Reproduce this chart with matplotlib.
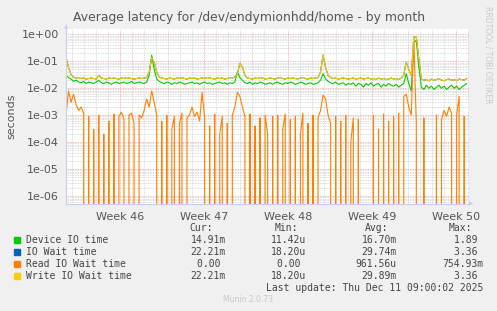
import numpy as np
import matplotlib
matplotlib.use('Agg')
import matplotlib.pyplot as plt
from matplotlib.ticker import FixedLocator, FuncFormatter, NullFormatter

# samples, in milliseconds, one every ~5 hours across the month
device_io_ms = [
    30, 25, 22, 18, 20, 17, 16, 18, 15, 17,
    16, 15, 17, 20, 16, 15, 17, 16, 14, 16,
    17, 15, 16, 17, 15, 16, 18, 15, 16, 17,
    16, 15, 17, 30, 170, 50, 22, 18, 16, 15,
    17, 16, 14, 16, 15, 17, 16, 14, 15, 16,
    17, 15, 16, 14, 16, 17, 15, 16, 14, 15,
    16, 17, 15, 16, 14, 16, 15, 17, 40, 25,
    20, 16, 15, 17, 14, 16, 15, 17, 16, 14,
    15, 16, 14, 16, 17, 15, 14, 16, 15, 17,
    16, 14, 15, 17, 16, 14, 15, 16, 14, 15,
    16, 20, 35, 22, 18, 16, 15, 17, 14, 15,
    16, 13, 15, 14, 16, 12, 15, 14, 11, 15,
    13, 16, 12, 14, 15, 11, 14, 12, 15, 13,
    12, 14, 11, 13, 15, 35, 15, 8, 500, 600,
    60, 11, 9, 13, 10, 12, 9, 11, 13, 10,
    12, 9, 11, 13, 10, 12, 9, 11, 13, 15,
]

write_wait_ms = [
    140, 60, 32, 26, 24, 25, 23, 24, 22, 23,
    24, 23, 22, 30, 24, 23, 22, 24, 23, 24,
    23, 22, 24, 23, 25, 24, 23, 22, 23, 24,
    23, 24, 25, 40, 140, 90, 40, 26, 24, 23,
    22, 24, 23, 22, 24, 23, 25, 23, 22, 24,
    23, 24, 22, 23, 24, 23, 25, 24, 23, 22,
    24, 23, 24, 22, 23, 25, 24, 26, 35, 85,
    60, 30, 24, 23, 22, 24, 23, 25, 24, 22,
    23, 24, 23, 22, 24, 25, 23, 22, 24, 23,
    24, 23, 22, 24, 25, 23, 22, 24, 23, 24,
    25, 40, 170, 60, 30, 25, 23, 24, 22, 23,
    24, 23, 22, 23, 24, 22, 23, 24, 22, 23,
    24, 22, 23, 21, 24, 22, 23, 21, 22, 24,
    22, 23, 21, 24, 30, 95, 50, 30, 800, 820,
    120, 22, 20, 21, 19, 22, 20, 21, 23, 20,
    19, 21, 22, 20, 21, 19, 22, 21, 20, 23,
]

io_wait_ms = list(write_wait_ms)

read_wait_ms = [
    1.0, 8.0, 3.0, 6.0, 2.5, 1.5, 2.0, 1.2, 0, 0.9,
    0, 0.3, 0, 1.0, 0, 0.2, 0, 0.6, 0, 1.1,
    0, 0.9, 1.3, 0.7, 0, 1.0, 1.2, 0.5, 0, 1.0,
    0.8, 1.5, 4.0, 2.0, 8.0, 3.0, 1.0, 0, 0.6, 0,
    1.0, 0, 0.3, 0.9, 0, 0.5, 1.2, 0, 0.8, 1.0,
    2.0, 0.9, 1.3, 0.6, 7.0, 0.8, 0, 0.4, 0, 1.1,
    0, 0.2, 0.9, 0, 0.5, 0, 1.0, 2.0, 7.0, 5.0,
    2.0, 0.9, 0, 1.1, 0, 0.4, 0, 0.8, 0, 1.0,
    0.2, 0, 0.9, 0, 1.0, 0, 0.3, 1.1, 0, 0.7,
    0, 0.9, 0, 0.2, 1.2, 0, 0.5, 0, 1.0, 0,
    0.8, 1.5, 5.5, 4.0, 1.0, 0.5, 0, 0.9, 0, 0.6,
    0, 1.0, 0, 0.1, 0.8, 0, 0.7, 0, 0, 0,
    0, 0, 1.0, 0, 0.3, 0, 1.1, 0, 0.6, 0,
    0.9, 0, 1.2, 0, 5.0, 6.0, 2.0, 1.0, 750, 0.5,
    0, 0, 0.8, 0, 0, 0, 0, 1.0, 0, 0.7,
    1.5, 0.9, 2.0, 1.2, 0, 1.0, 5.0, 0, 0.9, 0,
]

week_labels = ['Week 46', 'Week 47', 'Week 48', 'Week 49', 'Week 50']
week_days = [4.5, 11.5, 18.5, 25.5, 32.5]

series_names = ['Device IO time', 'IO Wait time', 'Read IO Wait time', 'Write IO Wait time']
series_colors = ['#00cc00', '#0066b3', '#ff8000', '#ffcc00']
cur_vals = ['14.91m', '22.21m', '0.00 ', '22.21m']
min_vals = ['11.42u', '18.20u', '0.00 ', '18.20u']
avg_vals = ['16.70m', '29.74m', '961.56u', '29.89m']
max_vals = ['1.89 ', '3.36 ', '754.93m', '3.36 ']

W, H = 497, 311
fig = plt.figure(figsize=(W / 100, H / 100), dpi=100, facecolor='#f0f0f0')


def px(x, y):
    return x / W, 1 - y / H


ax = fig.add_axes([66 / W, 1 - 204 / H, 403 / W, 175 / H])
ax.set_facecolor('white')

t = np.arange(len(device_io_ms)) * 0.21
series = [device_io_ms, io_wait_ms, read_wait_ms, write_wait_ms]
for vals, col in zip(series, series_colors):
    ax.plot(t, np.array(vals) * 1e-3, color=col, lw=0.8)

ax.set_yscale('log', nonpositive='clip')
ax.set_ylim(10 ** -6.296, 10 ** 0.2)
ax.set_xlim(0, 33.58)

ax.yaxis.set_major_locator(FixedLocator([10.0 ** k for k in range(-6, 1)]))
ax.yaxis.set_major_formatter(FuncFormatter(lambda v, p: f'{v:.0e}'))
minor_y = [m * 10.0 ** k for k in range(-7, 1) for m in range(2, 10)]
ax.yaxis.set_minor_locator(FixedLocator(minor_y))
ax.yaxis.set_minor_formatter(NullFormatter())

ax.xaxis.set_major_locator(FixedLocator(week_days))
ax.set_xticklabels(week_labels)
ax.xaxis.set_minor_locator(FixedLocator(np.arange(0.5, 34, 1.0)))

ax.grid(which='minor', color='#d0d0d0', ls=(0, (1, 1)), lw=0.6)
ax.grid(which='major', color='#f0a0a0', ls=(0, (1, 1)), lw=0.6)
ax.set_axisbelow(True)

ax.tick_params(which='both', length=0, labelsize=8, colors='#555555', pad=6)
ax.tick_params(axis='y', pad=5)
for s in ('top', 'right'):
    ax.spines[s].set_visible(False)
for s in ('left', 'bottom'):
    ax.spines[s].set_color('#c8ccf0')
    ax.spines[s].set_linewidth(0.8)

# axis arrows
fig.text(*px(66, 29), '\u25b2', color='#c8ccf0', fontsize=4, ha='center', va='bottom')
fig.text(*px(469, 204), '\u25b6', color='#c8ccf0', fontsize=4, ha='left', va='center')

fig.text(*px(249, 18), 'Average latency for /dev/endymionhdd/home - by month',
         ha='center', va='center', fontsize=8.9, color='#555555')
fig.text(*px(11, 116), 'seconds', rotation=90, ha='center', va='center',
         fontsize=8, color='#555555')
fig.text(*px(488, 55), 'RRDTOOL / TOBI OETIKER', rotation=270, ha='center', va='center',
         fontsize=5.5, color='#c8c8c8')

mono = dict(family='DejaVu Sans Mono', fontsize=7, color='#444444', va='center')
for hdr, xr in zip(['Cur:', 'Min:', 'Avg:', 'Max:'], [213, 298, 388, 472]):
    fig.text(*px(xr, 228), hdr, ha='right', **mono)

for i, name in enumerate(series_names):
    y = 240 + 12 * i
    fig.patches.append(plt.Rectangle(px(14, y + 3), 6 / W, 6 / H, color=series_colors[i],
                                     transform=fig.transFigure, figure=fig))
    fig.text(*px(26, y), name, ha='left', **mono)
    for vals, xr in zip([cur_vals, min_vals, avg_vals, max_vals], [226, 306, 397, 483]):
        fig.text(*px(xr, y), vals[i], ha='right', **mono)

fig.text(*px(483, 288), 'Last update: Thu Dec 11 09:00:02 2025', ha='right', **mono)
fig.text(*px(248, 300), 'Munin 2.0.73', ha='center', va='center', fontsize=5.5, color='#c8c8c8')

fig.savefig('out.png', dpi=100, facecolor=fig.get_facecolor())
